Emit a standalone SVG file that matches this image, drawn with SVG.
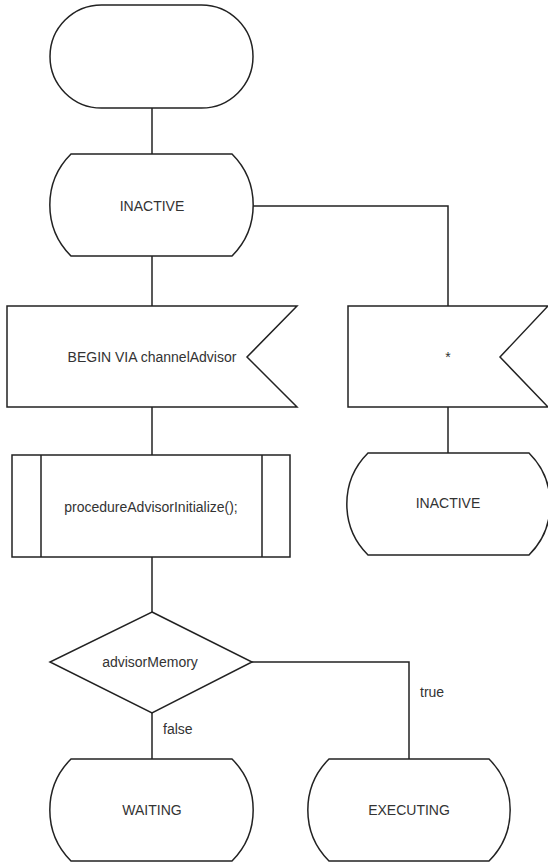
<svg xmlns="http://www.w3.org/2000/svg" width="548" height="864" viewBox="0 0 548 864">
  <style>
    .shape { fill: #ffffff; stroke: #222222; stroke-width: 1.5; }
    .edge { fill: none; stroke: #222222; stroke-width: 1.5; }
    .lbl { font-family: "Liberation Sans", Arial, sans-serif; font-size: 14px; fill: #333333; text-anchor: middle; dominant-baseline: central; }
    .elbl { font-family: "Liberation Sans", Arial, sans-serif; font-size: 14px; fill: #333333; }
  </style>
  <rect width="548" height="864" fill="#ffffff"/>

  <g id="connectors">
    <path class="edge" d="M152,108 V154"/>
    <path class="edge" d="M152,256 V306"/>
    <path class="edge" d="M253,206 H448 V306"/>
    <path class="edge" d="M152,407 V455"/>
    <path class="edge" d="M448,407 V453"/>
    <path class="edge" d="M152,557 V612"/>
    <path class="edge" d="M152,713 V759"/>
    <path class="edge" d="M252,662 H409 V759"/>
    <text class="elbl" x="163" y="734">false</text>
    <text class="elbl" x="420" y="697">true</text>
  </g>

  <g id="start">
    <rect class="shape" x="50" y="5" width="203" height="103" rx="51.5" ry="51.5"/>
  </g>

  <g id="state-inactive">
    <path class="shape" d="M71,154 H232 A72,72 0 0 1 232,256 H71 A72,72 0 0 1 71,154 Z"/>
    <text class="lbl" x="152" y="206">INACTIVE</text>
  </g>

  <g id="input-begin">
    <path class="shape" d="M7,306 H297 L247,357 L297,407 H7 Z"/>
    <text class="lbl" x="152" y="357">BEGIN VIA channelAdvisor</text>
  </g>

  <g id="input-any">
    <path class="shape" d="M348,306 H548 L500,357 L548,407 H348 Z"/>
    <text class="lbl" x="448" y="357">*</text>
  </g>

  <g id="procedure-call">
    <rect class="shape" x="12" y="455" width="278" height="102"/>
    <path class="edge" d="M41,455 V557 M262,455 V557"/>
    <text class="lbl" x="151" y="507">procedureAdvisorInitialize();</text>
  </g>

  <g id="state-inactive-2">
    <path class="shape" d="M368,453 H529 A72,72 0 0 1 529,555 H368 A72,72 0 0 1 368,453 Z"/>
    <text class="lbl" x="448" y="503">INACTIVE</text>
  </g>

  <g id="decision">
    <path class="shape" d="M152,612 L252,662 L152,713 L50,662 Z"/>
    <text class="lbl" x="150" y="662">advisorMemory</text>
  </g>

  <g id="state-waiting">
    <path class="shape" d="M71,759 H232 A72,72 0 0 1 232,861 H71 A72,72 0 0 1 71,759 Z"/>
    <text class="lbl" x="152" y="810">WAITING</text>
  </g>

  <g id="state-executing">
    <path class="shape" d="M329,759 H489 A72,72 0 0 1 489,861 H329 A72,72 0 0 1 329,759 Z"/>
    <text class="lbl" x="409" y="810">EXECUTING</text>
  </g>
</svg>
